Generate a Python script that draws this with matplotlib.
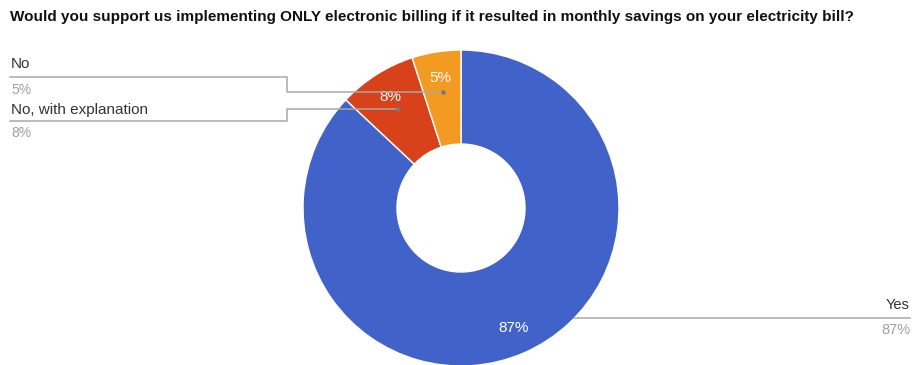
import numpy as np
import matplotlib
matplotlib.use("Agg")
import matplotlib.pyplot as plt

title = "Would you support us implementing ONLY electronic billing if it resulted in monthly savings on your electricity bill?"
categories = ["Yes", "No, with explanation", "No"]
values = [87, 8, 5]
colors = ["#4163c9", "#d8421a", "#f39a22"]

W, H = 913, 365
plt.rcParams['font.family'] = ['Liberation Sans', 'DejaVu Sans']
fig = plt.figure(figsize=(W / 100, H / 100), dpi=100)
ax = fig.add_axes([0, 0, 1, 1])
ax.set_xlim(0, W)
ax.set_ylim(0, H)
ax.set_aspect('equal')
ax.axis('off')

def Y(y):
    return H - y

cx, cy = 461, 208
R, r_in = 158, 64
wedges, _, autotexts = ax.pie(values, colors=colors, startangle=90, counterclock=False,
                              center=(cx, Y(cy)), radius=R, frame=True,
                              wedgeprops=dict(width=R - r_in, edgecolor='white', linewidth=1),
                              autopct=lambda p: f"{p:.0f}%", pctdistance=0.83,
                              textprops=dict(color='white', fontsize=11))
ax.set_xlim(0, W)
ax.set_ylim(0, H)
ax.axis('off')

ax.text(10, Y(17), title, fontsize=11, fontweight='bold', color='#111111', va='center', ha='left')

line_c = '#a8a8a8'
lab_c = '#333333'
pct_c = '#a0a0a0'
total = sum(values)
cum = np.cumsum([0] + values)
mid = {c: (cum[i] + values[i] / 2) / total * 360 for i, c in enumerate(categories)}

def leader_point(cat, rr):
    a = np.deg2rad(90 - mid[cat])
    return cx + rr * np.cos(a), Y(cy) + rr * np.sin(a)

# left labels
left_specs = [("No", 64, 90, 77), ("No, with explanation", 110, 133, 121)]
for cat, ty, py, ly in left_specs:
    i = categories.index(cat)
    ex, ey = leader_point(cat, 117)
    ax.plot([10, 287, 287, ex], [Y(ly), Y(ly), ey, ey], color=line_c, lw=1.1, zorder=5)
    ax.plot([ex], [ey], 'o', color='#777777', ms=2.2, zorder=6)
    ax.text(11, Y(ty), cat, fontsize=11, color=lab_c, va='center', ha='left')
    ax.text(11, Y(py), f"{values[i]}%", fontsize=10, color=pct_c, va='center', ha='left')

# right label
ly = 318
dy = ly - cy
ex = cx + np.sqrt(R ** 2 - dy ** 2)
ax.plot([ex, 910], [Y(ly), Y(ly)], color=line_c, lw=1.1)
ax.text(910, Y(305), "Yes", fontsize=10.5, color=lab_c, va='center', ha='right')
ax.text(910, Y(330), f"{values[0]}%", fontsize=10.5, color=pct_c, va='center', ha='right')

fig.savefig("out.png", dpi=100)
